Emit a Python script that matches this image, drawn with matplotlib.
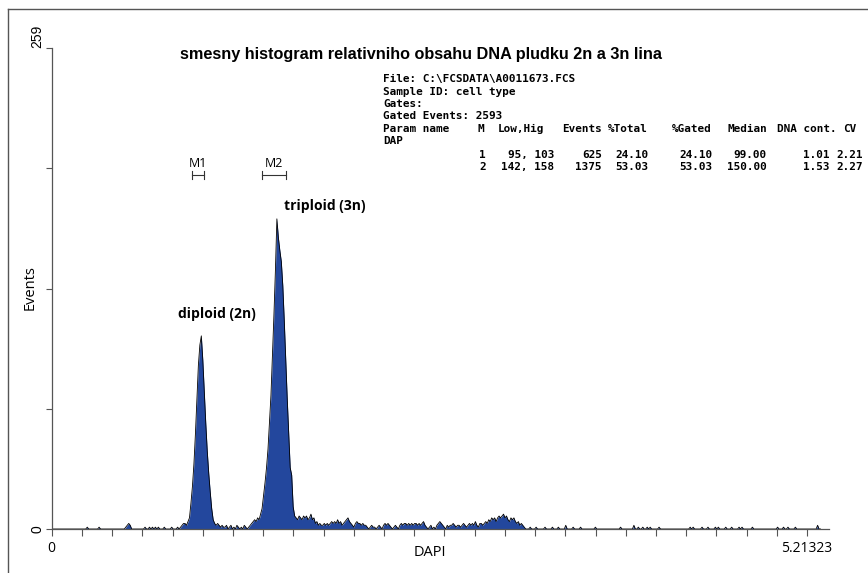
import numpy as np
import matplotlib
matplotlib.use("Agg")
import matplotlib.pyplot as plt
from matplotlib.lines import Line2D

# histogram channels with non-zero counts
channel = [
    24, 32, 50, 51, 52, 53, 63, 66, 68, 70, 72, 76, 81, 85, 87,
    88, 89, 90, 91, 92, 93, 94, 95, 96, 97, 98, 99, 100, 101, 102, 103, 104, 105,
    106, 107, 108, 109, 110, 111, 112, 113, 114, 115, 116,
    117, 118, 120, 121, 123, 125, 126, 128, 130, 131, 133, 134, 135,
    136, 137, 138, 139, 140, 141, 142, 143, 144, 145, 146, 147, 148, 149, 150,
    151, 152, 153, 154, 155, 156, 157, 158, 159, 160, 161, 162, 163, 164,
    165, 166, 167, 168, 169, 170, 171, 172, 173, 174, 175, 176, 177, 178, 179,
    180, 181, 182, 183, 184, 185, 186, 187, 188, 189, 190, 191, 192, 193, 194,
    195, 196, 197, 198, 199, 200, 201, 202, 203, 204, 205, 206, 207, 208, 209,
    210, 211, 212, 213, 215, 216, 217, 218, 220, 221, 222, 224, 225, 226, 227,
    228, 229, 231, 232, 233, 235, 236, 237, 238, 239, 240, 241, 242, 243, 244,
    245, 246, 247, 248, 249, 250, 251, 252, 253, 255, 256, 258, 260, 261, 262,
    263, 264, 265, 267, 268, 269, 270, 271, 272, 273, 274, 275, 276, 277, 278,
    279, 280, 281, 282, 283, 284, 285, 286, 287, 288, 289,
    290, 291, 292, 293, 294, 295, 296, 297, 298, 299, 300, 301, 302, 303, 304,
    305, 306, 307, 308, 309, 310, 311, 312, 313, 314, 315, 316, 317, 318, 319,
    323, 327, 333, 338, 342, 347, 352, 357, 367, 384, 393, 396, 399, 402, 404,
    410, 431, 433, 439, 443, 448, 450, 455, 459, 464, 466, 473, 490, 494, 497,
    502, 517,
]
events = [
    1, 1, 1, 2, 3, 2, 1, 1, 1, 1, 1, 1, 1, 1, 1,
    2, 3, 3, 2, 4, 6, 14, 23, 35, 51, 70, 88, 99, 104, 91, 74, 57, 42,
    30, 20, 11, 5, 3, 2, 3, 2, 1, 2, 1,
    1, 2, 1, 2, 1, 2, 1, 1, 2, 1, 1, 2, 3,
    4, 5, 4, 6, 5, 8, 11, 18, 25, 33, 43, 57, 72, 93, 115,
    139, 167, 157, 150, 144, 131, 112, 91, 70, 51, 33, 29, 12, 7,
    6, 5, 7, 6, 5, 7, 6, 7, 5, 6, 8, 5, 6, 3, 4,
    2, 3, 2, 2, 3, 2, 3, 2, 3, 4, 3, 4, 3, 5, 3,
    4, 2, 3, 4, 5, 6, 4, 3, 2, 1, 3, 4, 3, 3, 2,
    3, 2, 2, 1, 1, 2, 1, 1, 1, 2, 1, 2, 3, 2, 3,
    2, 1, 1, 2, 1, 2, 3, 2, 3, 3, 2, 3, 2, 3, 2,
    3, 3, 2, 3, 2, 3, 4, 2, 1, 1, 2, 1, 2, 3, 4,
    3, 2, 1, 2, 1, 2, 2, 3, 2, 1, 2, 2, 1, 2, 3,
    2, 1, 2, 3, 2, 3, 2, 4, 2, 1, 3,
    3, 2, 3, 4, 3, 5, 4, 6, 5, 6, 4, 6, 7, 6, 7,
    8, 6, 7, 5, 4, 6, 5, 6, 4, 3, 4, 2, 3, 2, 1,
    1, 1, 1, 1, 1, 2, 1, 1, 1, 1, 2, 1, 1, 1, 1,
    1, 1, 1, 1, 1, 1, 1, 1, 1, 1, 1, 1, 1, 1, 1,
    1, 2,
]

# marker gates (channels)
marker_names = ["M1", "M2"]
marker_low = [95, 142]
marker_high = [103, 158]

peak_labels = ["diploid (2n)", "triploid (3n)"]

CH_PER_UNIT = 97.8   # channels per DNA-content unit
X_MAX_LABEL = 5.21323
Y_MAX = 259

info_lines = ["File: C:\\FCSDATA\\A0011673.FCS", "Sample ID: cell type", "Gates:",
              "Gated Events: 2593", "Param name", "DAP"]
header_cols = ["M", "Low,Hig", "Events", "%Total", "%Gated", "Median", "DNA cont.", "CV"]
stat_rows = [
    ["1", "95, 103", "625", "24.10", "24.10", "99.00", "1.01", "2.21"],
    ["2", "142, 158", "1375", "53.03", "53.03", "150.00", "1.53", "2.27"],
]

W, H = 868, 573
BLUE = "#23479d"


def fx(x):
    return x / W


def fy(y):
    return 1 - y / H


counts = np.zeros(520)
counts[channel] = events
x = np.arange(len(counts)) / CH_PER_UNIT

fig = plt.figure(figsize=(W / 100, H / 100), dpi=100)
ax = fig.add_axes([fx(51.7), 1 - 529 / H, (829 - 51.7) / W, 481 / H])

ax.fill_between(x, counts, color=BLUE, lw=0, zorder=1)
ax.plot(x, counts, color="black", lw=0.6, zorder=2)

xmax = X_MAX_LABEL * (829 - 51.7) / (807 - 51.7)
ax.set_xlim(0, xmax)
ax.set_ylim(0, Y_MAX)

for s in ["top", "right"]:
    ax.spines[s].set_visible(False)
for s in ["left", "bottom"]:
    ax.spines[s].set_color("#555555")
    ax.spines[s].set_linewidth(0.9)
    ax.spines[s].set_zorder(3)

xt = np.linspace(0, X_MAX_LABEL, 26)
ax.set_xticks(xt)
ax.set_xticklabels(["0"] + [""] * 24 + ["5.21323"], family="Open Sans", fontsize=10)
ax.tick_params(axis="x", length=5, width=0.8, color="#555555", pad=4)
ax.set_yticks(np.linspace(0, Y_MAX, 5))
ax.set_yticklabels([])
ax.tick_params(axis="y", length=4, width=0.8, color="#555555")

ax.text(-0.018, Y_MAX, "259", transform=ax.get_yaxis_transform(), rotation=90,
        ha="center", va="bottom", fontsize=10, family="Liberation Sans")
ax.text(-0.018, 0, "0", transform=ax.get_yaxis_transform(), rotation=90,
        ha="center", va="center", fontsize=10, family="Liberation Sans")

fig.text(fx(30), fy(288), "Events", rotation=90, ha="center", va="center",
         family="Open Sans", fontsize=10.5)
fig.text(fx(430), fy(553), "DAPI", ha="center", va="center",
         family="Open Sans", fontsize=10.5)

fig.text(fx(421), fy(54), "smesny histogram relativniho obsahu DNA pludku 2n a 3n lina",
         ha="center", va="center", family="Liberation Sans", weight="bold", fontsize=11.7)

# peak annotations
peaks = [counts[marker_low[i]:marker_high[i] + 1].argmax() + marker_low[i] for i in range(2)]
ax.text(x[peaks[0]] - 0.16, counts[peaks[0]] + 8, peak_labels[0], family="Open Sans",
        weight="bold", fontsize=10, ha="left", va="bottom")
ax.text(x[peaks[1]] + 0.05, counts[peaks[1]] + 3, peak_labels[1], family="Open Sans",
        weight="bold", fontsize=10, ha="left", va="bottom")

# marker gates
ybar = Y_MAX * (529 - 175) / 481
for name, lo, hi in zip(marker_names, marker_low, marker_high):
    x0, x1 = lo / CH_PER_UNIT, hi / CH_PER_UNIT
    ax.plot([x0, x1], [ybar, ybar], color="#333333", lw=0.8, clip_on=False)
    for xx in (x0, x1):
        ax.plot([xx, xx], [ybar - 2, ybar + 2], color="#333333", lw=0.8, clip_on=False)
    ax.text((x0 + x1) / 2, ybar + 2.5, name, ha="center", va="bottom",
            family="Open Sans", fontsize=9)

# info block
mono = dict(family="DejaVu Sans Mono", weight="bold", fontsize=7.9, va="center")
line_y = [79, 92, 104, 116, 129, 141]
for txt, yy in zip(info_lines, line_y):
    fig.text(fx(383), fy(yy), txt, ha="left", **mono)
head_left = [477, 498, 562, 608, 672, 728, 777, 843]
for txt, xx in zip(header_cols, head_left):
    fig.text(fx(xx), fy(129), txt, ha="left", **mono)
col_right = [486, 554, 602, 648, 712, 767, 830, 863]
for row, yy in zip(stat_rows, [155, 167]):
    for txt, xx in zip(row, col_right):
        fig.text(fx(xx), fy(yy), txt, ha="right", **mono)

# outer frame
fig.add_artist(Line2D([fx(8), fx(8)], [fy(9), 0], color="#555555", lw=1))
fig.add_artist(Line2D([fx(8), 1], [fy(9), fy(9)], color="#555555", lw=1))

fig.savefig("out.png", dpi=100)
